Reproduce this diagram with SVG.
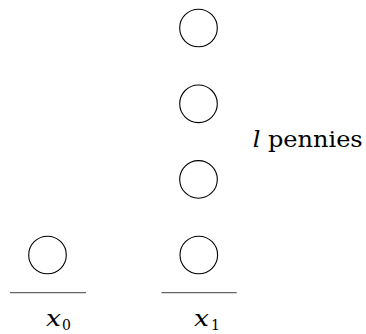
<svg xmlns="http://www.w3.org/2000/svg" width="366" height="334" viewBox="0 0 366 334">
<style>
.p{fill:none;stroke:#000;stroke-width:1.1}
.g{stroke:#666;stroke-width:1.3}
text{font-family:'DejaVu Serif','Liberation Serif',serif;font-size:22px;fill:#000}
.i{font-style:italic}
.s{font-size:14px}
</style>
<rect width="366" height="334" fill="#fff"/>
<g id="penny-x0"><circle class="p" cx="47.5" cy="255" r="18.8"/></g>
<g id="penny-x1-1"><circle class="p" cx="198.8" cy="255" r="18.8"/></g>
<g id="penny-x1-2"><circle class="p" cx="198.5" cy="179.4" r="18.8"/></g>
<g id="penny-x1-3"><circle class="p" cx="198.5" cy="103.8" r="18.8"/></g>
<g id="penny-x1-4"><circle class="p" cx="198.5" cy="28" r="18.8"/></g>
<g id="base-x0"><line class="g" x1="10" y1="292.7" x2="86" y2="292.7"/></g>
<g id="base-x1"><line class="g" x1="161.5" y1="292.7" x2="236.7" y2="292.7"/></g>
<g id="label-x0"><text x="46" y="326" textLength="15" lengthAdjust="spacingAndGlyphs" class="i">x</text><text x="62" y="330" class="s">0</text></g>
<g id="label-x1"><text x="194" y="326" textLength="15" lengthAdjust="spacingAndGlyphs" class="i">x</text><text x="211" y="330" class="s">1</text></g>
<g id="label-l"><text x="252.7" y="147" textLength="110" lengthAdjust="spacingAndGlyphs"><tspan class="i">l</tspan> pennies</text></g>
</svg>
